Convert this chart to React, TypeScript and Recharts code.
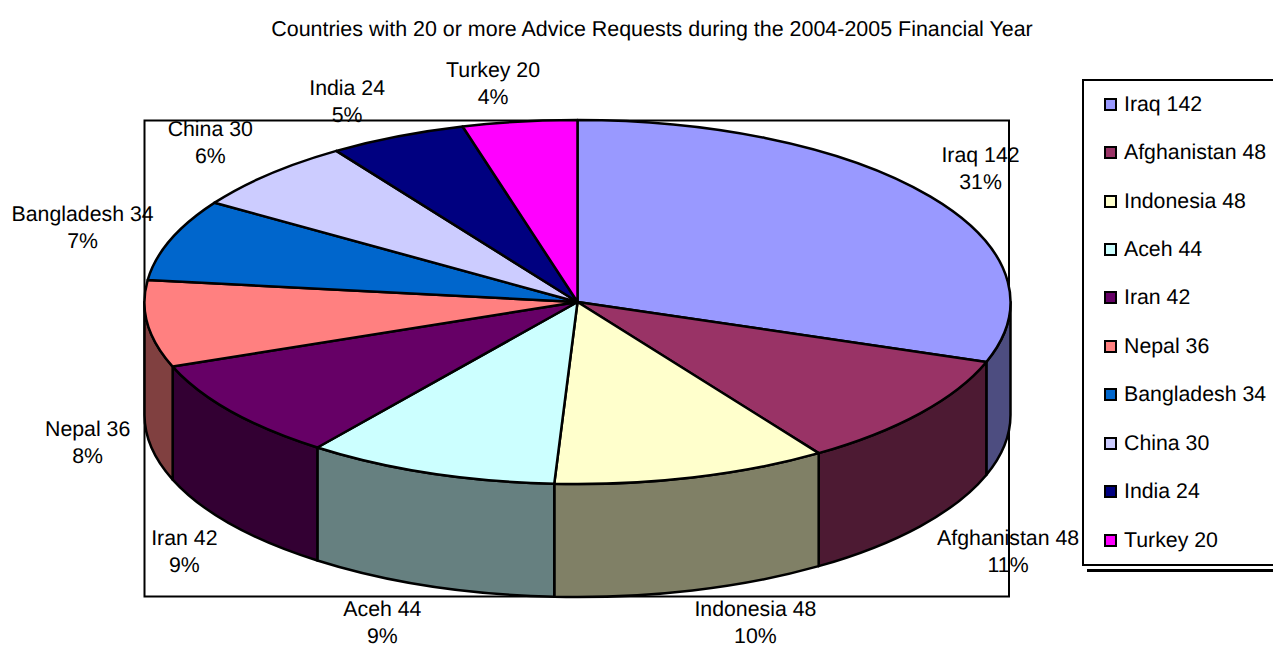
import { Customized, Legend, Pie, PieChart } from "recharts";

const countries = ["Iraq", "Afghanistan", "Indonesia", "Aceh", "Iran", "Nepal", "Bangladesh", "China", "India", "Turkey"];
const requests = [142, 48, 48, 44, 42, 36, 34, 30, 24, 20];
const percents = ["31%", "11%", "10%", "9%", "9%", "8%", "7%", "6%", "5%", "4%"];
const topColors = ["#9999FF", "#993366", "#FFFFCC", "#CCFFFF", "#660066", "#FF8080", "#0066CC", "#CCCCFF", "#000080", "#FF00FF"];
const wallColors = ["#4D4D80", "#4D1A33", "#808066", "#668080", "#330033", "#804040", "#003366", "#666680", "#000040", "#800080"];

// where each label sits relative to the rim point of its slice
const labelOffsets = [
  [50, -29], [88, 25], [63, 32], [-47, 36], [-47, 27],
  [-60, 5], [-88, -13], [-59, -32], [-50, -36], [-26.5, -39],
];

const WIDTH = 1273;
const HEIGHT = 648;
const CX = 577.5;
const CY = 302;
const RX = 433;
const RY = 182;
const DEPTH = 113;
const FONT = "'Liberation Sans', Arial, sans-serif";
const LABEL_SIZE = 21.3;

const data = countries.map((name, i) => ({
  name: `${name} ${requests[i]}`,
  value: requests[i],
  fill: topColors[i],
  wall: wallColors[i],
  percent: percents[i],
}));

const rad = (a: number) => (a * Math.PI) / 180;

function rim(cx: number, cy: number, rx: number, a: number) {
  return { x: cx + rx * Math.cos(rad(a)), y: cy - rx * (RY / RX) * Math.sin(rad(a)) };
}

// flattens the circular sector from the Pie into a tilted slice with a wall
function TiltedSlice(props: any) {
  const { cx, cy, outerRadius, startAngle, endAngle, fill, payload } = props;
  const ry = outerRadius * (RY / RX);
  const a = rim(cx, cy, outerRadius, startAngle);
  const b = rim(cx, cy, outerRadius, endAngle);
  const large = Math.abs(startAngle - endAngle) > 180 ? 1 : 0;
  const top = `M${cx},${cy} L${a.x},${a.y} A${outerRadius},${ry} 0 ${large} 1 ${b.x},${b.y} Z`;

  const hi = Math.min(startAngle, 0);
  const lo = Math.max(endAngle, -180);
  let wall = null;
  if (hi > lo) {
    const p = rim(cx, cy, outerRadius, hi);
    const q = rim(cx, cy, outerRadius, lo);
    wall = `M${p.x},${p.y} A${outerRadius},${ry} 0 0 1 ${q.x},${q.y} L${q.x},${q.y + DEPTH} A${outerRadius},${ry} 0 0 0 ${p.x},${p.y + DEPTH} Z`;
  }
  return (
    <g>
      {wall && <path d={wall} fill={payload.wall} stroke="#000" strokeWidth={2.5} strokeLinejoin="round" />}
      <path d={top} fill={fill} stroke="#000" strokeWidth={2.5} strokeLinejoin="round" />
    </g>
  );
}

function SliceLabel(props: any) {
  const { cx, cy, outerRadius, midAngle, index } = props;
  const p = rim(cx, cy, outerRadius, midAngle);
  const lower = Math.sin(rad(midAngle)) < 0;
  const [dx, dy] = labelOffsets[index];
  const x = p.x + dx;
  const y = p.y + (lower ? DEPTH : 0) + dy;
  return (
    <text x={x} textAnchor="middle" fontFamily={FONT} fontSize={LABEL_SIZE} fill="#000">
      <tspan x={x} y={y - 6}>{data[index].name}</tspan>
      <tspan x={x} y={y + 21}>{data[index].percent}</tspan>
    </text>
  );
}

function LegendBox({ payload }: any) {
  return (
    <div style={{ position: "relative", width: 195, height: 487, boxSizing: "border-box", border: "2px solid #000", background: "#fff", fontFamily: FONT, fontSize: LABEL_SIZE }}>
      <div style={{ position: "absolute", left: 3, top: 488, width: 195, height: 3, background: "#000" }} />
      <div style={{ marginTop: -1 }}>
        {(payload || []).map((entry: any) => (
          <div key={entry.value} style={{ display: "flex", alignItems: "center", height: 48.45, paddingLeft: 20, color: "#000", whiteSpace: "nowrap" }}>
            <span style={{ width: 13, height: 13, boxSizing: "border-box", border: "2px solid #000", background: entry.color, marginRight: 7 }} />
            {entry.value}
          </div>
        ))}
      </div>
    </div>
  );
}

export default function App() {
  return (
    <div style={{ position: "absolute", left: 0, top: 0, width: WIDTH, height: HEIGHT, overflow: "hidden", background: "#fff", textRendering: "geometricPrecision" }}>
      <PieChart width={WIDTH} height={HEIGHT} margin={{ top: 0, right: 0, bottom: 0, left: 0 }}>
        <Customized
          component={() => (
            <g>
              <rect x={144.5} y={120.5} width={864.5} height={476} fill="none" stroke="#000" strokeWidth={2} />
              <text x={652} y={36} textAnchor="middle" fontFamily={FONT} fontSize={21.45} fill="#000">
                Countries with 20 or more Advice Requests during the 2004-2005 Financial Year
              </text>
            </g>
          )}
        />
        <Pie
          data={data}
          dataKey="value"
          nameKey="name"
          cx={CX}
          cy={CY}
          outerRadius={RX}
          startAngle={90}
          endAngle={-270}
          shape={TiltedSlice}
          label={SliceLabel}
          labelLine={false}
          isAnimationActive={false}
        />
        <Legend
          content={LegendBox}
          layout="vertical"
          itemSorter={null}
          wrapperStyle={{ position: "absolute", left: 1082, top: 79, width: 200 }}
        />
      </PieChart>
    </div>
  );
}
